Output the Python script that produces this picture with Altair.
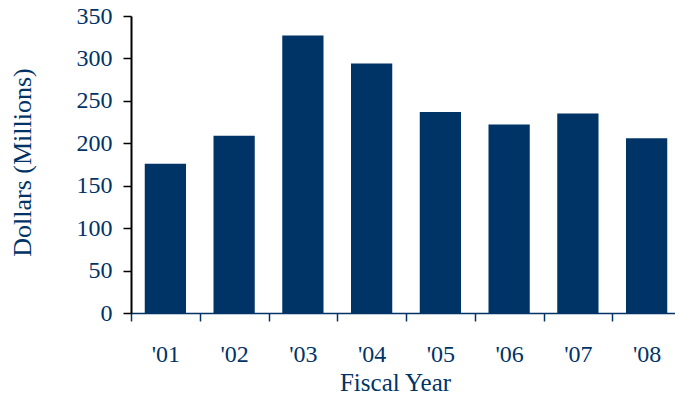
import altair as alt
import pandas as pd

years = ["'01", "'02", "'03", "'04", "'05", "'06", "'07", "'08"]
dollars = [176, 209, 327, 294, 237, 222, 235, 206]

df = pd.DataFrame({"year": years, "dollars": dollars})

NAVY = "#003366"
FONT = "Liberation Serif"

chart = alt.Chart(df).mark_bar(color=NAVY, width=alt.RelativeBandSize(0.6)).encode(
    x=alt.X(
        "year:N",
        sort=years,
        scale=alt.Scale(range=[0, 550], paddingInner=0, paddingOuter=0),
        axis=alt.Axis(
            title="Fiscal Year",
            labelAngle=0,
            tickBand="extent",
            domainColor=NAVY,
            domainWidth=1.5,
            tickColor=NAVY,
            tickWidth=1.5,
            tickSize=8,
            labelFont=FONT,
            labelFontSize=24,
            labelColor=NAVY,
            labelBaseline="alphabetic",
            labelPadding=40,
            titleFont=FONT,
            titleFontSize=25,
            titleFontWeight="normal",
            titleColor=NAVY,
            titleBaseline="alphabetic",
            titleAlign="center",
            titleX=264,
            titleY=77,
            grid=False,
        ),
    ),
    y=alt.Y(
        "dollars:Q",
        scale=alt.Scale(domain=[0, 350], nice=False),
        axis=alt.Axis(
            title="Dollars (Millions)",
            values=[0, 50, 100, 150, 200, 250, 300, 350],
            domainColor="black",
            domainWidth=2,
            tickColor="black",
            tickWidth=1.5,
            tickSize=8,
            labelFont=FONT,
            labelFontSize=24,
            labelColor=NAVY,
            labelPadding=11,
            titleFont=FONT,
            titleFontSize=26,
            titleFontWeight="normal",
            titleColor=NAVY,
            titleAngle=-90,
            titleBaseline="alphabetic",
            titleAlign="center",
            titleX=-101,
            titleY=146,
            grid=False,
        ),
    ),
).properties(
    width=544,
    height=297,
    autosize=alt.AutoSizeParams(type="none"),
    padding={"left": 131, "top": 16, "right": 0, "bottom": 81},
).configure(background="white").configure_view(stroke=None, strokeWidth=0)

chart.save("out.html", embed_options={"renderer": "svg", "actions": False})
